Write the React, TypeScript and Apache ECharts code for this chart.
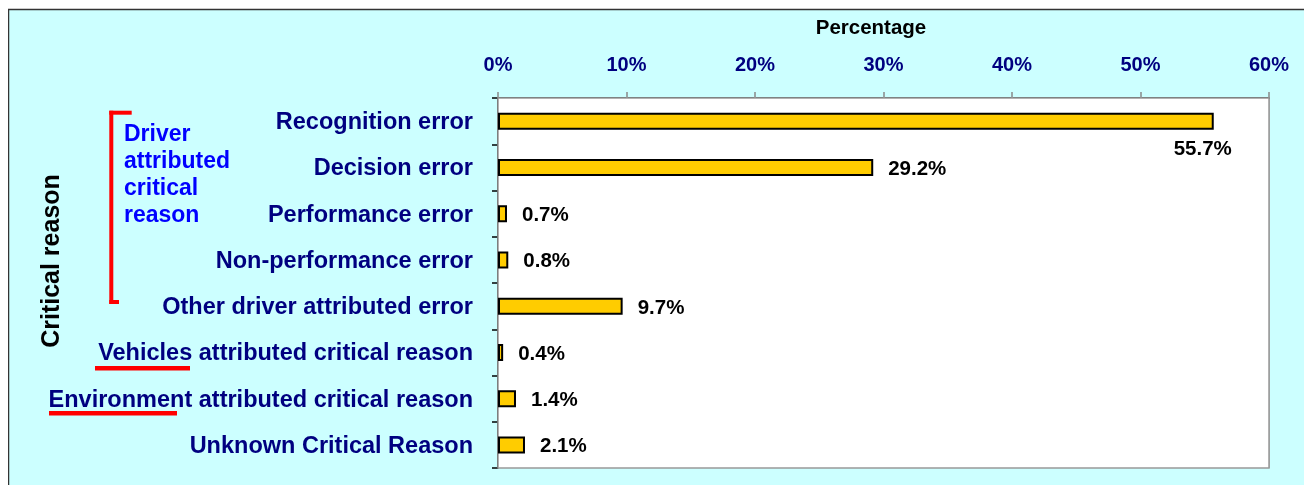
import React, { useEffect, useRef } from "react";
import * as echarts from "echarts";

const categories = [
  "Recognition error",
  "Decision error",
  "Performance error",
  "Non-performance error",
  "Other driver attributed error",
  "Vehicles attributed critical reason",
  "Environment attributed critical reason",
  "Unknown Critical Reason",
];
const values = [55.7, 29.2, 0.7, 0.8, 9.7, 0.4, 1.4, 2.1];
const xTicks = { min: 0, max: 60, interval: 10 };

export default function App() {
  const ref = useRef<HTMLDivElement>(null);
  useEffect(() => {
    if (!ref.current) return;
    const chart = echarts.init(ref.current, null, { renderer: "svg" });
    const red = "#ff0000";
    chart.setOption({
      animation: false,
      backgroundColor: "transparent",
      grid: {
        left: 490,
        top: 90,
        width: 771,
        height: 370,
        show: true,
        backgroundColor: "#ffffff",
        borderColor: "#999999",
        borderWidth: 1.5,
        z: 1,
      },
      xAxis: {
        type: "value",
        position: "top",
        min: xTicks.min,
        max: xTicks.max,
        interval: xTicks.interval,
        axisLine: { show: true, lineStyle: { color: "#000000", width: 1.5 } },
        axisTick: { show: true, length: 6, lineStyle: { color: "#888888", width: 1.5 } },
        splitLine: { show: true, lineStyle: { color: "#999999", width: 1.5 } },
        axisLabel: {
          formatter: "{value}%",
          color: "#000080",
          fontFamily: "Liberation Sans, Arial, sans-serif",
          fontWeight: "bold",
          fontSize: 20,
          margin: 24,
        },
      },
      yAxis: {
        type: "category",
        inverse: true,
        data: categories,
        axisLine: { show: true, lineStyle: { color: "#000000", width: 1.5 } },
        axisTick: { show: true, length: 6, lineStyle: { color: "#000000", width: 1.5 } },
        axisLabel: {
          color: "#000080",
          fontFamily: "Liberation Sans, Arial, sans-serif",
          fontWeight: "bold",
          fontSize: 23.5,
          margin: 25,
          padding: [3, 0, 0, 0],
        },
      },
      series: [
        {
          type: "bar",
          data: values.map((v, i) =>
            i === 0
              ? {
                  value: v,
                  label: {
                    position: ["100%", "100%"],
                    align: "center",
                    verticalAlign: "middle",
                    offset: [-11, 18],
                  },
                }
              : v
          ),
          barWidth: 17,
          itemStyle: { color: "#ffcc00", borderColor: "#000000", borderWidth: 2 },
          label: {
            show: true,
            position: "right",
            distance: 15,
            formatter: "{c}%",
            color: "#000000",
            fontFamily: "Liberation Sans, Arial, sans-serif",
            fontWeight: "bold",
            fontSize: 20.5,
          },
          z: 3,
        },
      ],
      graphic: [
        {
          type: "rect",
          z: -10,
          silent: true,
          shape: { x: 0.5, y: 1.5, width: 1400, height: 600 },
          style: { fill: "#ccffff", stroke: "#333333", lineWidth: 1.5 },
        },
        {
          type: "text",
          x: 863,
          y: 18,
          style: {
            text: "Percentage",
            fill: "#000000",
            font: "bold 20.5px 'Liberation Sans', Arial, sans-serif",
            textAlign: "center",
            textVerticalAlign: "middle",
          },
        },
        {
          type: "text",
          x: 42,
          y: 253,
          rotation: Math.PI / 2,
          style: {
            text: "Critical reason",
            fill: "#000000",
            font: "bold 25px 'Liberation Sans', Arial, sans-serif",
            textAlign: "center",
            textVerticalAlign: "middle",
          },
        },
        {
          type: "text",
          x: 116,
          y: 165.5,
          style: {
            text: "Driver\nattributed\ncritical\nreason",
            fill: "#0000ff",
            font: "bold 23px 'Liberation Sans', Arial, sans-serif",
            lineHeight: 27.3,
            textAlign: "left",
            textVerticalAlign: "middle",
          },
        },
        { type: "rect", shape: { x: 101.3, y: 102.7, width: 4, height: 193.3 }, style: { fill: red } },
        { type: "rect", shape: { x: 101.3, y: 102.7, width: 22.4, height: 4 }, style: { fill: red } },
        { type: "rect", shape: { x: 101.3, y: 292, width: 9.7, height: 4 }, style: { fill: red } },
        { type: "rect", shape: { x: 87, y: 358, width: 95, height: 4.5 }, style: { fill: red } },
        { type: "rect", shape: { x: 41, y: 403, width: 128, height: 4.5 }, style: { fill: red } },
      ],
    });
    return () => chart.dispose();
  }, []);
  return (
    <div
      ref={ref}
      style={{ position: "fixed", left: 8, top: 8, width: 1296, height: 477 }}
    />
  );
}
